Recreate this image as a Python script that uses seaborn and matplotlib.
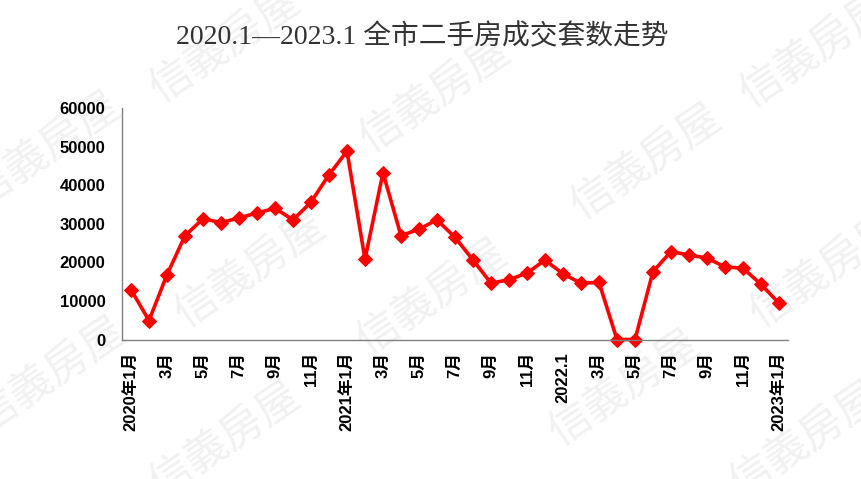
import matplotlib
matplotlib.use("Agg")
import matplotlib.pyplot as plt
import seaborn as sns
import numpy as np
import pandas as pd

months = ["2020年1月", "2", "3月", "4", "5月", "6", "7月", "8", "9月", "10", "11月", "12",
          "2021年1月", "2", "3月", "4", "5月", "6", "7月", "8", "9月", "10", "11月", "12",
          "2022.1", "2", "3月", "4", "5月", "6", "7月", "8", "9月", "10", "11月", "12",
          "2023年1月"]
volumes = [12900, 4900, 16800, 26900, 31300, 30300, 31500, 32800, 34000, 31000, 35600, 42700,
           48800, 20800, 43200, 26900, 28600, 31000, 26500, 20600, 14600, 15500, 17200, 20600,
           17000, 14600, 14800, 0, 0, 17600, 22800, 21900, 21100, 18800, 18500, 14300,
           9400]
yticks = [0, 10000, 20000, 30000, 40000, 50000, 60000]
title = "2020.1—2023.1 全市二手房成交套数走势"
watermark = "信義房屋"

sns.set_theme(style="white")
plt.rcParams['font.family'] = ['Liberation Sans', 'Noto Sans CJK SC', 'DejaVu Sans']

df = pd.DataFrame({"idx": np.arange(len(volumes)), "v": volumes})

fig = plt.figure(figsize=(8.62, 4.79), dpi=100)
fig.patch.set_facecolor("white")

# watermarks
wm_pos = [(45, 150), (50, 375), (225, 45), (250, 270), (225, 440), (435, 95), (432, 297),
          (646, 162), (624, 388), (815, 50), (825, 270), (805, 440)]
for (px, py) in wm_pos:
    fig.text(px / 862, 1 - py / 479, watermark, fontsize=31, color="#f1f1f1",
             rotation=34, ha="center", va="center", family=['Noto Sans CJK TC', 'Noto Sans CJK SC'],
             zorder=-10)

ax = fig.add_axes([122 / 862, 1 - 339.5 / 479, (788 - 122) / 862, (339.5 - 108) / 479])
ax.set_facecolor("none")
sns.lineplot(data=df, x="idx", y="v", ax=ax, color="#ff0000", linewidth=2.6,
             marker="D", markersize=7, markeredgecolor="#ff0000", markerfacecolor="#ff0000")
ax.set_xlim(-0.5, len(volumes) - 0.5)
ax.set_ylim(0, 60000)
ax.set_yticks(yticks)
ax.set_yticklabels([str(t) for t in yticks], fontsize=12, fontweight="bold", color="black")

lab_idx = [i for i in range(len(months)) if i % 2 == 0]
ax.set_xticks(lab_idx)
ax.set_xticklabels([months[i] for i in lab_idx], rotation=90, fontsize=12,
                   fontweight="bold", color="black", va="top", ha="center")
ax.set_xticks(np.arange(-0.5, len(volumes), 1.0), minor=True)
ax.tick_params(axis="x", which="major", length=0, pad=9)
ax.tick_params(axis="x", which="minor", direction="in", length=5, color="#808080", width=1)
ax.tick_params(axis="y", which="major", direction="in", length=5, color="#808080", width=1, pad=12)
ax.set_xlabel("")
ax.set_ylabel("")
for s in ["top", "right"]:
    ax.spines[s].set_visible(False)
for s in ["left", "bottom"]:
    ax.spines[s].set_color("#808080")
    ax.spines[s].set_linewidth(1)
for m in ax.lines:
    m.set_clip_on(False)

fig.text(422 / 862, 1 - 37 / 479, title, fontsize=20, color="#333333", ha="center", va="center",
         family=['Liberation Serif', 'Noto Sans CJK SC'])

fig.savefig("out.png", dpi=100)
